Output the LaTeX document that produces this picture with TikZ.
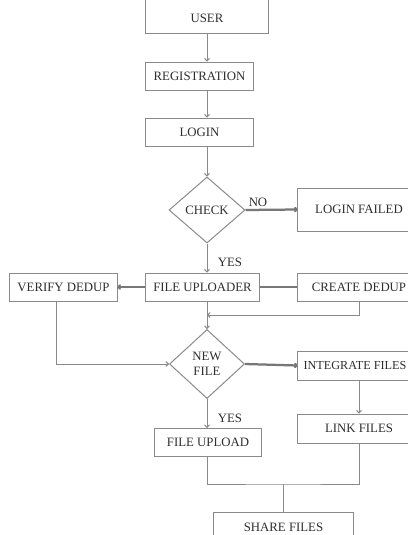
\documentclass[tikz,border=0pt]{standalone}
\usepackage{fontspec}
\setmainfont{Liberation Serif}
\usetikzlibrary{shapes.geometric,arrows.meta}
\definecolor{linegray}{HTML}{8A8A8A}
\definecolor{thickgray}{HTML}{777777}
\definecolor{textgray}{HTML}{2E2E2E}
\begin{document}
\begin{tikzpicture}[x=0.025cm,y=-0.025cm,
  >={To[length=2.5pt,width=4pt]},
  box/.style={draw=linegray,line width=0.7pt,fill=white,inner sep=0pt,
    minimum width=2.675cm,minimum height=0.7cm,text=textgray,
    font=\fontsize{9.1}{10.8}\selectfont},
  dia/.style={box,diamond,align=center},
  lbl/.style={text=textgray,font=\fontsize{9.1}{10.8}\selectfont,inner sep=0pt},
  thin line/.style={draw=linegray,line width=0.7pt},
  thick line/.style={draw=thickgray,line width=1.6pt}]
\useasboundingbox (0,0) rectangle (408,535);
\clip (0,0) rectangle (408,535);
\fill[white] (0,0) rectangle (408,535);

\node[box,anchor=south,minimum width=3.05cm,minimum height=0pt,
  text height=1.0625cm,text depth=0.2875cm] (user) at (207,34) {USER};
\node[box] (reg) at (199.5,76) {REGISTRATION};
\node[box] (login) at (199.5,132) {LOGIN};
\node[dia,minimum width=1.9cm,minimum height=1.65cm] (check) at (207,210) {CHECK};
\node[box,minimum width=3.05cm,minimum height=1.075cm] (failed) at (359,209.5) {LOGIN FAILED};
\node[box,minimum width=2.825cm] (uploader) at (202.5,287) {FILE UPLOADER};
\node[box] (verify) at (63.5,287) {VERIFY DEDUP};
\node[box,minimum width=3.05cm] (create) at (359,287) {CREATE DEDUP};
\node[dia,minimum width=1.875cm,minimum height=1.725cm] (newfile) at (207,364) {NEW\\FILE};
\node[box,minimum width=3.05cm,minimum height=0.725cm,font=\fontsize{8.7}{10.4}\selectfont]
  (integ) at (359,365.5) {INTEGRATE FILES\hspace*{0.2cm}};
\node[box,minimum width=3.05cm,minimum height=0.725cm] (link) at (359,428.5) {LINK FILES};
\node[box] (upload) at (208,442.5) {FILE UPLOAD};
\node[box,minimum width=3.475cm,minimum height=0.75cm] (share) at (283.5,527) {SHARE FILES};

\node[lbl] (no) at (258,202) {NO};
\node[lbl] (yes1) at (230,262) {YES};
\node[lbl] (yes2) at (230,418) {YES};

\coordinate (merge) at (207,315);
\coordinate (vbend) at (56,364);
\coordinate (join) at (283,484);

\draw[thin line,->] (user.south) -- (reg.north -| user);
\draw[thin line,->] (reg.south -| user) -- (login.north -| user);
\draw[thin line,->] (login.south -| check) -- (check.north);
\draw[thick line,->] (check.east) -- (failed.west);
\draw[thin line,->] (check.south) -- (uploader.north -| check);
\draw[thick line,->] (uploader.west) -- (verify.east);
\draw[thick line] (create.west) -- (uploader.east);
\draw[thin line,->] (create.south) |- (merge);
\draw[thin line,->] (uploader.south -| newfile) -- (newfile.north);
\draw[thin line,->] (verify.south -| vbend) |- (newfile.west);
\draw[thick line,->] (newfile.east) -- (integ.west);
\draw[thin line,->] (integ.south) -- (link.north);
\draw[thin line,->] (newfile.south) -- (upload.north -| newfile);
\draw[thin line] (upload.south -| newfile) |- (join) -| (link.south);
\draw[thin line] (join) -- (share.north -| join);

\end{tikzpicture}
\end{document}
